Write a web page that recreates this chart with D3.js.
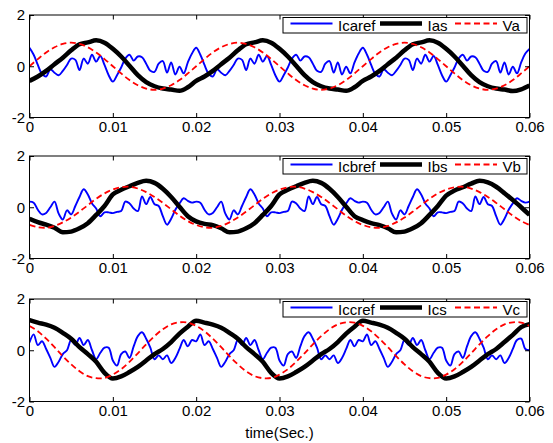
<!DOCTYPE html>
<html>
<head>
<meta charset="utf-8">
<script src="https://cdn.jsdelivr.net/npm/d3@7"></script>
<style>
    body { margin: 0; background: #fff; }
    svg { display: block; font-family: "Liberation Sans", Arial, sans-serif; }
</style>
</head>
<body>
<svg id="chart" width="553" height="443"></svg>
<script>
// sample spacing of the series below (seconds)
const refStep = 0.0005;
const waveStep = 0.001;

const xTicks = [0, 0.01, 0.02, 0.03, 0.04, 0.05, 0.06];
const xTickLabels = ["0", "0.01", "0.02", "0.03", "0.04", "0.05", "0.06"];
const yTicks = [-2, 0, 2];
const yTickLabels = ["-2", "0", "2"];
const xTitle = "time(Sec.)";

const legendA = ["Icaref", "Ias", "Va"];
const legendB = ["Icbref", "Ibs", "Vb"];
const legendC = ["Iccref", "Ics", "Vc"];

// phase a
const icaref = [
    0.72, 0.45, 0.05, -0.30, -0.40, -0.12, -0.25, -0.35, -0.18, 0.05, 0.30, 0.25, -0.15, 0.30, 0.10, 0.45, 0.18, 0.40, 0.05, -0.35, -0.60, -0.35, -0.05, 0.30, 0.45, 0.22, 0.38, 0.35, 0.10, -0.18, -0.22, 0.10, 0.20, -0.25, 0.15, -0.32, -0.02, -0.28, 0.15, 0.50, 0.72,
    0.45, 0.05, -0.30, -0.40, -0.12, -0.25, -0.35, -0.18, 0.05, 0.30, 0.25, -0.15, 0.30, 0.10, 0.45, 0.18, 0.40, 0.05, -0.35, -0.60, -0.35, -0.05, 0.30, 0.45, 0.22, 0.38, 0.35, 0.10, -0.18, -0.22, 0.10, 0.20, -0.25, 0.15, -0.32, -0.02, -0.28, 0.15, 0.50, 0.72,
    0.45, 0.05, -0.30, -0.40, -0.12, -0.25, -0.35, -0.18, 0.05, 0.30, 0.25, -0.15, 0.30, 0.10, 0.45, 0.18, 0.40, 0.05, -0.35, -0.60, -0.35, -0.05, 0.30, 0.45, 0.22, 0.38, 0.35, 0.10, -0.18, -0.22, 0.10, 0.20, -0.25, 0.15, -0.32, -0.02, -0.28, 0.15, 0.50, 0.68
];
const ias = [
    -0.57, -0.40, -0.18, 0.08, 0.33, 0.62, 0.86, 0.93, 1.01, 0.92, 0.68, 0.38, 0.02, -0.35, -0.62, -0.78, -0.87, -0.91, -0.96, -0.82, -0.57,
    -0.40, -0.18, 0.08, 0.33, 0.62, 0.86, 0.93, 1.01, 0.92, 0.68, 0.38, 0.02, -0.35, -0.62, -0.78, -0.87, -0.91, -0.96, -0.82, -0.57,
    -0.40, -0.18, 0.08, 0.33, 0.62, 0.86, 0.93, 1.01, 0.92, 0.68, 0.38, 0.02, -0.35, -0.62, -0.78, -0.87, -0.91, -0.97, -0.90, -0.75
];
const va = [
    0, 0.28, 0.54, 0.74, 0.87, 0.92, 0.87, 0.74, 0.54, 0.28, 0, -0.28, -0.54, -0.74, -0.87, -0.92, -0.87, -0.74, -0.54, -0.28, 0,
    0.28, 0.54, 0.74, 0.87, 0.92, 0.87, 0.74, 0.54, 0.28, 0, -0.28, -0.54, -0.74, -0.87, -0.92, -0.87, -0.74, -0.54, -0.28, 0,
    0.28, 0.54, 0.74, 0.87, 0.92, 0.87, 0.74, 0.54, 0.28, 0, -0.28, -0.54, -0.74, -0.87, -0.92, -0.87, -0.74, -0.54, -0.28, 0
];

// phase b
const icbref = [
    0.22, 0.18, -0.10, -0.28, -0.22, 0.00, 0.22, -0.25, -0.48, -0.12, -0.28, 0.05, 0.40, 0.70, 0.50, 0.15, -0.05, -0.35, -0.20, -0.20, -0.23, -0.18, -0.15, 0.22, 0.15, -0.05, -0.15, 0.42, 0.12, 0.40, 0.12, 0.05, -0.35, -0.68, -0.45, -0.10, 0.15, 0.35, 0.25, 0.18, 0.22,
    0.18, -0.10, -0.28, -0.22, 0.00, 0.22, -0.25, -0.48, -0.12, -0.28, 0.05, 0.40, 0.70, 0.50, 0.15, -0.05, -0.35, -0.20, -0.20, -0.23, -0.18, -0.15, 0.22, 0.15, -0.05, -0.15, 0.42, 0.12, 0.40, 0.12, 0.05, -0.35, -0.68, -0.45, -0.10, 0.15, 0.35, 0.25, 0.18, 0.22,
    0.18, -0.10, -0.28, -0.22, 0.00, 0.22, -0.25, -0.48, -0.12, -0.28, 0.05, 0.40, 0.70, 0.50, 0.15, -0.05, -0.35, -0.20, -0.20, -0.23, -0.18, -0.15, 0.22, 0.15, -0.05, -0.15, 0.42, 0.12, 0.40, 0.12, 0.05, -0.35, -0.68, -0.45, -0.10, 0.15, 0.35, 0.25, 0.18, 0.22
];
const ibs = [
    -0.45, -0.58, -0.68, -0.80, -0.98, -0.95, -0.82, -0.62, -0.30, 0.05, 0.50, 0.68, 0.82, 0.95, 1.03, 0.95, 0.72, 0.40, 0.02, -0.35, -0.55,
    -0.65, -0.70, -0.82, -0.98, -0.95, -0.82, -0.62, -0.30, 0.05, 0.50, 0.68, 0.82, 0.95, 1.03, 0.95, 0.72, 0.40, 0.02, -0.35, -0.50,
    -0.62, -0.70, -0.82, -0.98, -0.95, -0.82, -0.62, -0.30, 0.05, 0.45, 0.65, 0.78, 0.92, 1.03, 0.97, 0.80, 0.55, 0.28, 0.00, -0.30
];
const vb = [
    -0.69, -0.78, -0.80, -0.73, -0.59, -0.40, -0.17, 0.08, 0.33, 0.54, 0.69, 0.78, 0.80, 0.73, 0.59, 0.40, 0.17, -0.08, -0.33, -0.54, -0.69,
    -0.78, -0.80, -0.73, -0.59, -0.40, -0.17, 0.08, 0.33, 0.54, 0.69, 0.78, 0.80, 0.73, 0.59, 0.40, 0.17, -0.08, -0.33, -0.54, -0.69,
    -0.78, -0.80, -0.73, -0.59, -0.40, -0.17, 0.08, 0.33, 0.54, 0.69, 0.78, 0.80, 0.73, 0.59, 0.40, 0.17, -0.08, -0.33, -0.54, -0.69
];

// phase c
const iccref = [
    0.30, 0.62, 0.20, 0.35, 0.05, -0.30, -0.65, -0.45, -0.15, 0.00, 0.40, 0.20, 0.48, 0.20, 0.40, 0.00, -0.35, -0.10, 0.10, 0.10, -0.40, -0.60, -0.15, -0.05, -0.30, 0.15, 0.55, 0.70, 0.45, 0.10, -0.35, -0.20, -0.35, -0.20, -0.50, -0.30, 0.05, 0.40, 0.15, 0.40, 0.35,
    0.62, 0.20, 0.35, 0.05, -0.30, -0.65, -0.45, -0.15, 0.00, 0.40, 0.20, 0.48, 0.20, 0.40, 0.00, -0.35, -0.10, 0.10, 0.10, -0.40, -0.60, -0.15, -0.05, -0.30, 0.15, 0.55, 0.70, 0.45, 0.10, -0.35, -0.20, -0.35, -0.20, -0.50, -0.30, 0.05, 0.40, 0.15, 0.40, 0.35,
    0.62, 0.20, 0.35, 0.05, -0.30, -0.65, -0.45, -0.15, 0.00, 0.40, 0.20, 0.48, 0.20, 0.40, 0.00, -0.35, -0.10, 0.10, 0.10, -0.40, -0.60, -0.15, -0.05, -0.30, 0.15, 0.55, 0.70, 0.45, 0.10, -0.35, -0.20, -0.35, -0.20, -0.50, -0.30, 0.05, 0.40, 0.45, 0.05, 0.00
];
const ics = [
    1.18, 1.08, 1.00, 0.88, 0.68, 0.45, 0.12, -0.15, -0.45, -0.88, -1.10, -1.02, -0.85, -0.65, -0.40, -0.15, 0.05, 0.32, 0.65, 0.92, 1.15,
    1.08, 1.00, 0.88, 0.68, 0.45, 0.12, -0.15, -0.45, -0.88, -1.10, -1.02, -0.85, -0.65, -0.40, -0.15, 0.05, 0.32, 0.65, 0.92, 1.15,
    1.08, 1.00, 0.88, 0.68, 0.45, 0.12, -0.15, -0.45, -0.88, -1.10, -1.02, -0.85, -0.65, -0.40, -0.15, 0.05, 0.32, 0.60, 0.90, 1.02
];
const vc = [
    0.95, 0.74, 0.45, 0.12, -0.23, -0.55, -0.82, -1.01, -1.09, -1.08, -0.95, -0.74, -0.45, -0.12, 0.23, 0.55, 0.82, 1.01, 1.09, 1.08, 0.95,
    0.74, 0.45, 0.12, -0.23, -0.55, -0.82, -1.01, -1.09, -1.08, -0.95, -0.74, -0.45, -0.12, 0.23, 0.55, 0.82, 1.01, 1.09, 1.08, 0.95,
    0.74, 0.45, 0.12, -0.23, -0.55, -0.82, -1.01, -1.09, -1.08, -0.95, -0.74, -0.45, -0.12, 0.23, 0.55, 0.82, 1.01, 1.09, 1.08, 0.95
];

// SETUP
const panels = [
    {ref: icaref, src: ias, volt: va, names: legendA},
    {ref: icbref, src: ibs, volt: vb, names: legendB},
    {ref: iccref, src: ics, volt: vc, names: legendC}
];
const panelTops = [15, 156, 299],
    panelH = 102.5,
    fontSize = 15,
    tickLen = 4.5;

const svg = d3.select("#chart");
const x = d3.scaleLinear().domain([0, 0.06]).range([29.5, 529.5]);

const styles = [
    {color: "#0000ff", width: 1.9, dash: null, curve: d3.curveCatmullRom},
    {color: "#000000", width: 4.5, dash: null, curve: d3.curveMonotoneX},
    {color: "#ff0000", width: 1.8, dash: "6,3.5", curve: d3.curveCatmullRom}
];

function fixAxis(sel) {
    sel.attr("font-size", fontSize).attr("font-family", null);
    sel.select(".domain").remove();
    sel.selectAll(".tick line").attr("stroke", "#000");
    sel.selectAll(".tick text").attr("fill", "#000");
}

panels.forEach((p, i) => {
    const top = panelTops[i];
    const y = d3.scaleLinear().domain([-2, 2]).range([top + panelH, top]);
    const g = svg.append("g");

    svg.append("clipPath").attr("id", "clip" + i)
        .append("rect")
        .attr("x", x(0)).attr("y", top)
        .attr("width", x(0.06) - x(0)).attr("height", panelH);

    // LINES
    const lines = g.append("g").attr("clip-path", "url(#clip" + i + ")");
    const series = [
        {data: p.ref, step: refStep},
        {data: p.src, step: waveStep},
        {data: p.volt, step: waveStep}
    ];
    series.forEach((s, k) => {
        const line = d3.line()
            .x((d, j) => x(j * s.step))
            .y(d => y(d))
            .curve(styles[k].curve);
        lines.append("path")
            .datum(s.data)
            .attr("d", line)
            .attr("fill", "none")
            .attr("stroke", styles[k].color)
            .attr("stroke-width", styles[k].width)
            .attr("stroke-linejoin", "round")
            .attr("stroke-dasharray", styles[k].dash);
    });

    // AXES
    g.append("g")
        .attr("transform", "translate(0," + y(-2) + ")")
        .call(d3.axisBottom(x).tickValues(xTicks)
            .tickFormat((d, k) => xTickLabels[k])
            .tickSizeInner(-tickLen).tickSizeOuter(0).tickPadding(4))
        .call(fixAxis);
    g.append("g")
        .attr("transform", "translate(0," + y(2) + ")")
        .call(d3.axisTop(x).tickValues(xTicks).tickFormat("")
            .tickSizeInner(-tickLen).tickSizeOuter(0))
        .call(fixAxis);
    g.append("g")
        .attr("transform", "translate(" + x(0) + ",0)")
        .call(d3.axisLeft(y).tickValues(yTicks)
            .tickFormat((d, k) => yTickLabels[k])
            .tickSizeInner(-tickLen).tickSizeOuter(0).tickPadding(4.5))
        .call(fixAxis);
    g.append("g")
        .attr("transform", "translate(" + x(0.06) + ",0)")
        .call(d3.axisRight(y).tickValues(yTicks).tickFormat("")
            .tickSizeInner(-tickLen).tickSizeOuter(0))
        .call(fixAxis);

    g.append("rect")
        .attr("x", x(0)).attr("y", top)
        .attr("width", x(0.06) - x(0)).attr("height", panelH)
        .attr("fill", "none")
        .attr("stroke", "#000")
        .attr("stroke-width", 1);

    // LEGEND
    const lx = 283, ly = top + 2.5, lw = 244, lh = 15.5;
    const lg = g.append("g");
    lg.append("rect")
        .attr("x", lx).attr("y", ly)
        .attr("width", lw).attr("height", lh)
        .attr("fill", "#fff")
        .attr("stroke", "#000")
        .attr("stroke-width", 1);
    const entryX = [7.5, 97, 172];
    p.names.forEach((name, k) => {
        lg.append("line")
            .attr("x1", lx + entryX[k]).attr("x2", lx + entryX[k] + 42)
            .attr("y1", ly + 6).attr("y2", ly + 6)
            .attr("stroke", styles[k].color)
            .attr("stroke-width", styles[k].width)
            .attr("stroke-dasharray", styles[k].dash);
        lg.append("text")
            .attr("x", lx + entryX[k] + 47.5)
            .attr("y", ly + 13.5)
            .attr("font-size", fontSize)
            .attr("fill", "#000")
            .text(name);
    });
});

svg.append("text")
    .attr("x", (x(0) + x(0.06)) / 2)
    .attr("y", 437.5)
    .attr("text-anchor", "middle")
    .attr("font-size", fontSize)
    .attr("fill", "#000")
    .text(xTitle);
</script>
</body>
</html>
